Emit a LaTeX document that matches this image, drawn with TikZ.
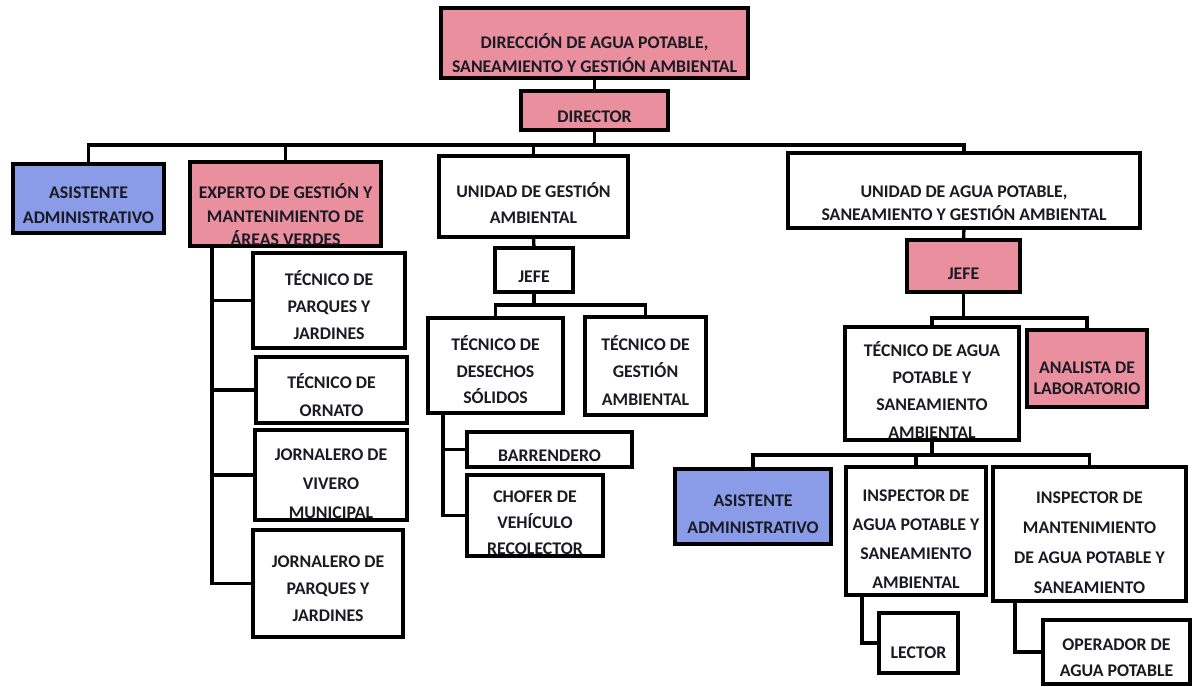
\documentclass[tikz,border=0pt]{standalone}
\usepackage{fontspec}
\setmainfont{Carlito}
\definecolor{pinkc}{HTML}{EA8F9E}
\definecolor{bluec}{HTML}{8A9BE8}
\definecolor{inkc}{HTML}{1A1A24}
\newcommand\lblfont[1]{\fontsize{17.8}{#1}\selectfont\bfseries}
% box from its corners: name, x1, y1, x2, y2, style
\newcommand\obox[6]{%
  \pgfmathsetmacro\obW{#4-#2}\pgfmathsetmacro\obH{#5-#3}%
  \pgfmathsetmacro\obX{(#2+#4)/2}\pgfmathsetmacro\obY{(#3+#5)/2}%
  \node[#6,minimum width=\obW pt,minimum height=\obH pt] (#1) at (\obX,\obY) {};}
\begin{document}
\begin{tikzpicture}[x=1pt,y=-1pt,
  box/.style={draw=black,line width=3.3pt,inner sep=0pt,outer sep=0pt},
  pinkbox/.style={box,fill=pinkc},
  bluebox/.style={box,fill=bluec},
  whitebox/.style={box,fill=white},
  lbl/.style={align=center,inner sep=0pt,text=inkc,anchor=base,font=\lblfont{#1}},
  lbl/.default=26,
  wire/.style={draw=black,line width=3.3pt}]
\useasboundingbox (0,0) rectangle (1196,686);
\fill[white] (0,0) rectangle (1196,686);

% ---- boxes
\obox{top}{441}{8}{748}{78}{pinkbox}
\obox{director}{521}{91}{668}{130}{pinkbox}
\obox{asistA}{13}{164}{164}{233}{bluebox}
\obox{experto}{190}{162}{381}{246}{pinkbox}
\obox{unidadGA}{439}{156}{628}{237}{whitebox}
\obox{unidadAP}{788}{153}{1140}{228}{whitebox}
\obox{jefeGA}{495}{248}{573}{292}{whitebox}
\obox{jefeAP}{907}{240}{1020}{292}{pinkbox}
\obox{tecPJ}{253}{253}{405}{348}{whitebox}
\obox{tecOrn}{256}{357}{407}{423}{whitebox}
\obox{jorViv}{255}{430}{407}{520}{whitebox}
\obox{jorPJ}{253}{530}{403}{637}{whitebox}
\obox{tecDS}{428}{318}{563}{413}{whitebox}
\obox{tecGA}{585}{317}{706}{415}{whitebox}
\obox{barr}{467}{432}{632}{467}{whitebox}
\obox{chofer}{467}{475}{603}{556}{whitebox}
\obox{tecAP}{845}{327}{1019}{440}{whitebox}
\obox{analista}{1027}{330}{1147}{407}{pinkbox}
\obox{asistB}{675}{469}{831}{544}{bluebox}
\obox{inspAP}{846}{467}{986}{595}{whitebox}
\obox{inspM}{993}{467}{1186}{601}{whitebox}
\obox{lector}{879}{613}{958}{673}{whitebox}
\obox{operador}{1043}{620}{1190}{684}{whitebox}

% ---- connectors
\coordinate (busTop) at (0,145);
\draw[wire] (top.south) -- (director.north);
\draw[wire] (director.south) -- (director.south |- busTop);
\draw[wire] (asistA.north) -- (asistA.north |- busTop) -- (unidadAP.north |- busTop) -- (unidadAP.north);
\draw[wire] (experto.north |- busTop) -- (experto.north);
\draw[wire] (unidadGA.north |- busTop) -- (unidadGA.north);

% experto branch
\coordinate (eTrunk) at ([xshift=22pt]experto.south west);
\draw[wire] (eTrunk) |- (jorPJ.west);
\draw[wire] (eTrunk |- tecPJ.west) -- (tecPJ.west);
\draw[wire] (eTrunk |- tecOrn.west) -- (tecOrn.west);
\draw[wire] (eTrunk |- jorViv.west) -- (jorViv.west);

% gestion ambiental branch
\coordinate (busGA) at (0,305);
\draw[wire] (unidadGA.south) -- (jefeGA.north);
\draw[wire] (jefeGA.south) -- (jefeGA.south |- busGA);
\draw[wire] (tecDS.north) -- (tecDS.north |- busGA) -- (tecGA.north |- busGA) -- (tecGA.north);
\coordinate (dTrunk) at ([xshift=15pt]tecDS.south west);
\draw[wire] (dTrunk) |- (chofer.west);
\draw[wire] (dTrunk |- barr.west) -- (barr.west);

% agua potable branch
\coordinate (busAP) at (0,318);
\draw[wire] (unidadAP.south) -- (jefeAP.north);
\draw[wire] (jefeAP.south) -- (jefeAP.south |- busAP);
\draw[wire] (tecAP.north) -- (tecAP.north |- busAP) -- (analista.north |- busAP) -- (analista.north);
\coordinate (busAP2) at (0,455);
\draw[wire] (tecAP.south) -- (tecAP.south |- busAP2);
\draw[wire] (asistB.north) -- (asistB.north |- busAP2) -- (inspM.north |- busAP2) -- (inspM.north);
\draw[wire] (inspAP.north |- busAP2) -- (inspAP.north);
\coordinate (lTrunk) at ([xshift=16pt]inspAP.south west);
\draw[wire] (lTrunk) |- (lector.west);
\coordinate (oTrunk) at ([xshift=22pt]inspM.south west);
\draw[wire] (oTrunk) |- (operador.west);

% ---- texts
\node[lbl=24] (top-t) at (top |- 0,72.5) {DIRECCIÓN DE AGUA POTABLE,\\SANEAMIENTO Y GESTIÓN AMBIENTAL};
\node[lbl] (director-t) at (director |- 0,122.5) {DIRECTOR};
\node[lbl=25] (asistA-t) at (asistA |- 0,223.5) {ASISTENTE\\ADMINISTRATIVO};
\node[lbl=23.5] (experto-t) at (experto |- 0,245.5) {EXPERTO DE GESTIÓN Y\\MANTENIMIENTO DE\\ÁREAS VERDES};
\node[lbl=26] (unidadGA-t) at (unidadGA |- 0,223.5) {UNIDAD DE GESTIÓN\\AMBIENTAL};
\node[lbl=23] (unidadAP-t) at (unidadAP |- 0,220.5) {UNIDAD DE AGUA POTABLE,\\SANEAMIENTO Y GESTIÓN AMBIENTAL};
\node[lbl] (jefeGA-t) at (jefeGA |- 0,282.5) {JEFE};
\node[lbl] (jefeAP-t) at (jefeAP |- 0,279) {JEFE};
\node[lbl=27] (tecPJ-t) at (tecPJ |- 0,339.5) {TÉCNICO DE\\PARQUES Y\\JARDINES};
\node[lbl=28] (tecOrn-t) at (tecOrn |- 0,416.5) {TÉCNICO DE\\ORNATO};
\node[lbl=29] (jorViv-t) at (jorViv |- 0,518.5) {JORNALERO DE\\VIVERO\\MUNICIPAL};
\node[lbl=27] (jorPJ-t) at (jorPJ |- 0,621.5) {JORNALERO DE\\PARQUES Y\\JARDINES};
\node[lbl=26.5] (tecDS-t) at (tecDS |- 0,403.5) {TÉCNICO DE\\DESECHOS\\SÓLIDOS};
\node[lbl=27.5] (tecGA-t) at (tecGA |- 0,405) {TÉCNICO DE\\GESTIÓN\\AMBIENTAL};
\node[lbl] (barr-t) at (barr |- 0,461.5) {BARRENDERO};
\node[lbl=26] (chofer-t) at (chofer |- 0,554.5) {CHOFER DE\\VEHÍCULO\\RECOLECTOR};
\node[lbl=27.3] (tecAP-t) at (tecAP |- 0,438) {TÉCNICO DE AGUA\\POTABLE Y\\SANEAMIENTO\\AMBIENTAL};
\node[lbl=21] (analista-t) at (analista |- 0,394) {ANALISTA DE\\LABORATORIO};
\node[lbl=27] (asistB-t) at (asistB |- 0,533) {ASISTENTE\\ADMINISTRATIVO};
\node[lbl=29] (inspAP-t) at (inspAP |- 0,588) {INSPECTOR DE\\AGUA POTABLE Y\\SANEAMIENTO\\AMBIENTAL};
\node[lbl=29.7] (inspM-t) at (inspM |- 0,593) {INSPECTOR DE\\MANTENIMIENTO\\DE AGUA POTABLE Y\\SANEAMIENTO};
\node[lbl] (lector-t) at (lector |- 0,658) {LECTOR};
\node[lbl=26] (operador-t) at (operador |- 0,676) {OPERADOR DE\\AGUA POTABLE};
\end{tikzpicture}
\end{document}
